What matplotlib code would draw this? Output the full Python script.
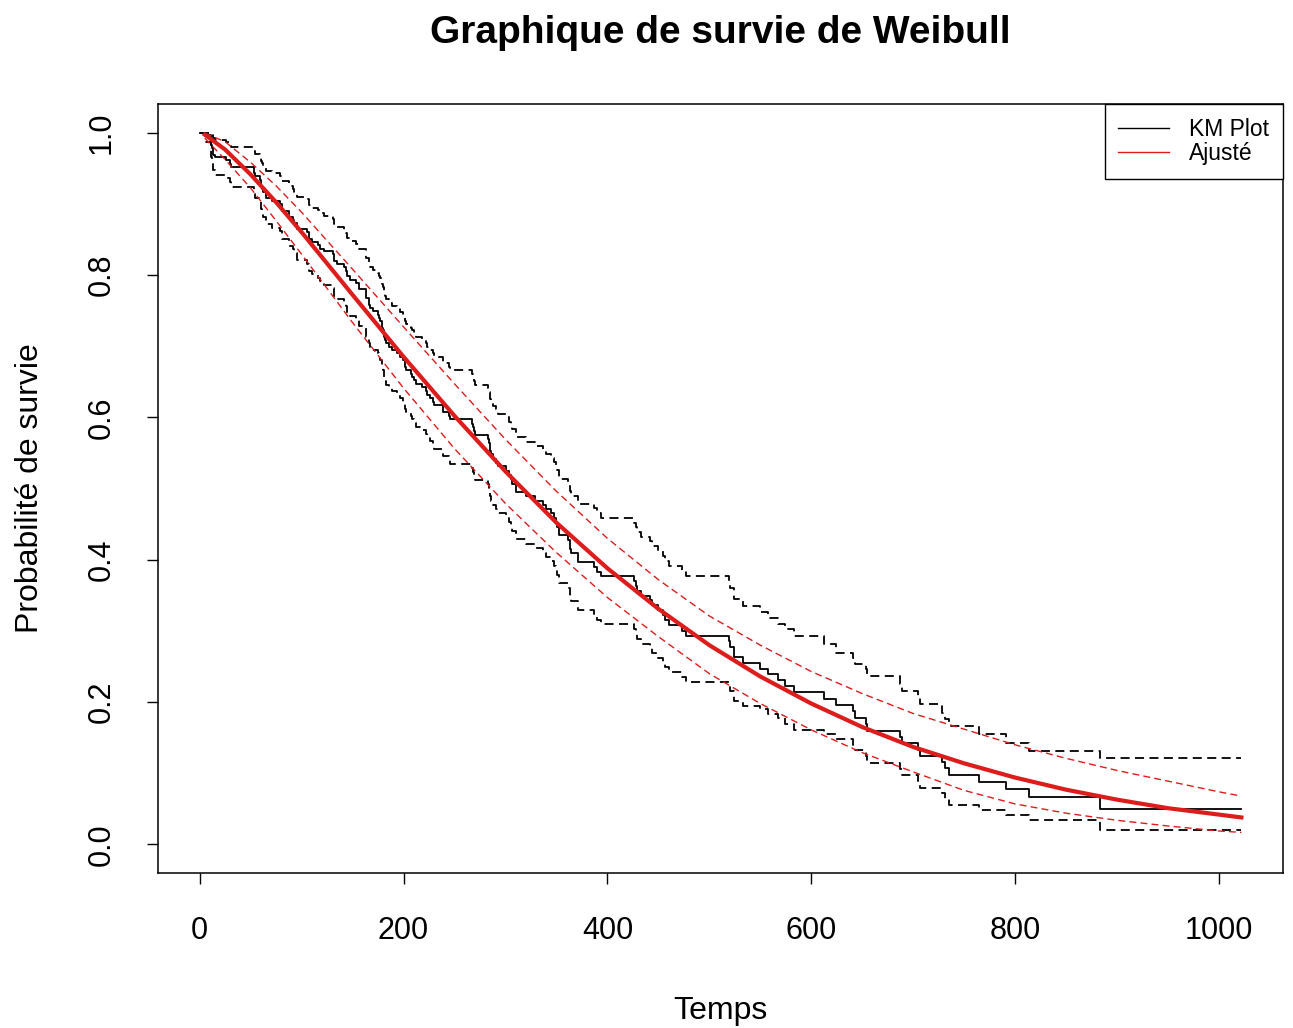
import matplotlib.pyplot as plt
from matplotlib.lines import Line2D

plt.rcParams['font.family'] = ['Liberation Sans', 'DejaVu Sans']

# Kaplan-Meier estimate: event times, survival and 95% bounds
km_time = [5, 11, 12, 13, 15, 26, 30, 31, 53, 54, 59, 60, 61, 62, 65, 71, 79, 81, 88, 92,
           93, 95, 105, 107, 110, 116, 118, 122, 131, 132, 135, 142, 144, 145, 147, 153, 156, 163, 166, 167,
           170, 175, 176, 177, 179, 180, 181, 182, 183, 186, 189, 194, 197, 199, 201, 202, 207, 208, 210, 212,
           218, 222, 223, 226, 229, 230, 239, 245, 246, 267, 268, 269, 270, 283, 284, 285, 286, 288, 291, 293,
           301, 303, 305, 306, 310, 320, 329, 337, 340, 345, 348, 350, 351, 353, 361, 363, 364, 371, 387, 390,
           394, 426, 428, 429, 433, 442, 444, 450, 455, 457, 460, 473, 477, 519, 520, 524, 533, 550, 558, 567,
           574, 583, 613, 624, 641, 643, 654, 655, 687, 689, 705, 707, 728, 731, 735, 765, 791, 814, 883]
km_surv = [.996, .982, .978, .969, .965, .961, .956, .952, .943, .939, .934, .925, .921, .917, .908, .904, .899, .890, .882, .877,
           .873, .864, .860, .851, .846, .842, .837, .833, .829, .820, .815, .811, .806, .798, .793, .789, .780, .767, .758, .753,
           .749, .744, .740, .735, .726, .722, .713, .708, .704, .699, .694, .690, .685, .680, .671, .666, .661, .657, .652, .647,
           .642, .637, .632, .627, .622, .617, .607, .602, .597, .591, .586, .581, .575, .570, .564, .553, .548, .542, .536, .531,
           .525, .519, .513, .507, .495, .489, .483, .477, .471, .465, .459, .452, .446, .434, .428, .415, .409, .397, .390, .383,
           .377, .370, .363, .356, .349, .343, .336, .329, .322, .315, .308, .300, .293, .286, .278, .263, .255, .247, .239, .231,
           .222, .214, .205, .196, .187, .178, .169, .160, .151, .142, .133, .125, .116, .107, .098, .088, .078, .067, .050]
km_lower = [.987, .966, .959, .947, .941, .936, .930, .924, .913, .908, .903, .892, .887, .882, .871, .866, .861, .851, .841, .836,
            .831, .821, .816, .806, .801, .796, .791, .786, .781, .771, .766, .762, .757, .747, .742, .737, .728, .713, .704, .699,
            .694, .690, .685, .680, .670, .666, .656, .651, .646, .642, .637, .632, .627, .622, .612, .607, .602, .597, .592, .587,
            .582, .577, .572, .567, .561, .556, .545, .540, .535, .529, .523, .518, .512, .506, .500, .489, .483, .477, .471, .465,
            .459, .453, .447, .441, .429, .422, .416, .410, .404, .398, .391, .385, .379, .367, .360, .348, .342, .329, .323, .316,
            .309, .303, .296, .289, .282, .276, .269, .262, .255, .249, .242, .235, .228, .222, .215, .201, .195, .190, .183, .177,
            .169, .161, .155, .148, .140, .133, .124, .115, .106, .097, .089, .080, .072, .064, .056, .048, .042, .035, .020]
km_upper = [1.0, .999, .997, .992, .989, .986, .983, .980, .974, .970, .967, .960, .957, .953, .946, .943, .939, .932, .925, .921,
            .917, .910, .906, .898, .894, .891, .887, .883, .879, .871, .867, .863, .859, .852, .848, .844, .836, .824, .816, .811,
            .807, .803, .799, .795, .787, .783, .774, .770, .766, .761, .757, .753, .748, .744, .735, .731, .726, .722, .717, .713,
            .708, .704, .699, .695, .690, .685, .676, .671, .666, .661, .656, .651, .646, .641, .636, .626, .621, .616, .611, .605,
            .600, .594, .589, .583, .572, .566, .560, .554, .549, .543, .537, .532, .526, .514, .508, .496, .490, .478, .472, .465,
            .459, .452, .446, .439, .432, .426, .419, .412, .405, .398, .391, .384, .377, .368, .360, .345, .335, .326, .318, .310,
            .302, .293, .282, .269, .262, .254, .247, .237, .226, .216, .207, .197, .185, .176, .166, .155, .143, .132, .121]
t_max = 1022

# Weibull fit with its confidence band
fit_time = [5, 25, 50, 75, 100, 150, 200, 250, 300, 350, 400, 450, 500, 550, 600, 650, 700, 750, 800, 850, 900, 950, 1000, 1022]
fit_surv = [.997, .976, .941, .902, .860, .772, .685, .602, .524, .452, .388, .331, .280, .236, .198, .165, .137, .114, .094, .077, .063, .051, .042, .038]
fit_lower = [.992, .962, .922, .876, .829, .733, .641, .556, .479, .410, .347, .292, .240, .198, .161, .129, .102, .076, .057, .044, .034, .026, .019, .017]
fit_upper = [.999, .987, .958, .925, .888, .808, .727, .647, .569, .496, .430, .372, .321, .280, .243, .212, .184, .162, .140, .121, .104, .089, .074, .068]


def steps(values, start=1.0):
    xs = [0] + km_time + [t_max]
    ys = [start] + values + [values[-1]]
    return xs, ys


red = '#dd1c1c'
dash = (0, (5, 3))

fig = plt.figure(figsize=(12.93, 10.28), dpi=100)
ax = fig.add_axes([0.1222, 0.1508, 0.8701, 0.748])

ax.step(*steps(km_surv), where='post', color='black', lw=1.3)
ax.step(*steps(km_lower), where='post', color='black', lw=1.3, linestyle=dash)
ax.step(*steps(km_upper), where='post', color='black', lw=1.3, linestyle=dash)

ax.plot(fit_time, fit_surv, color=red, lw=3.0)
ax.plot(fit_time, fit_lower, color=red, lw=1.0, linestyle=dash)
ax.plot(fit_time, fit_upper, color=red, lw=1.0, linestyle=dash)

ax.set_xlim(-40.9, 1062.9)
ax.set_ylim(-0.04, 1.04)
ax.set_xticks([0, 200, 400, 600, 800, 1000])
ax.set_yticks([0.0, 0.2, 0.4, 0.6, 0.8, 1.0])
ax.set_yticklabels(['0.0', '0.2', '0.4', '0.6', '0.8', '1.0'], rotation=90, va='center')
ax.tick_params(labelsize=22, length=8, width=1.0)
ax.tick_params(axis='x', pad=23)
ax.tick_params(axis='y', pad=22)
for s in ax.spines.values():
    s.set_linewidth(1.1)

ax.set_xlabel('Temps', fontsize=23, labelpad=36)
ax.set_ylabel('Probabilité de survie', fontsize=23, labelpad=30)
ax.set_title('Graphique de survie de Weibull', fontsize=28, fontweight='bold', pad=44)

handles = [Line2D([], [], color='black', lw=1.0), Line2D([], [], color=red, lw=1.0)]
leg = ax.legend(handles, ['KM Plot', 'Ajusté'], loc='upper right', fontsize=16.5,
                frameon=True, fancybox=False, framealpha=1, edgecolor='black',
                borderaxespad=0, handlelength=2.2, handletextpad=0.9,
                labelspacing=0.05, borderpad=0.6)
leg.get_frame().set_linewidth(1.0)

fig.savefig('out.png', dpi=100)
